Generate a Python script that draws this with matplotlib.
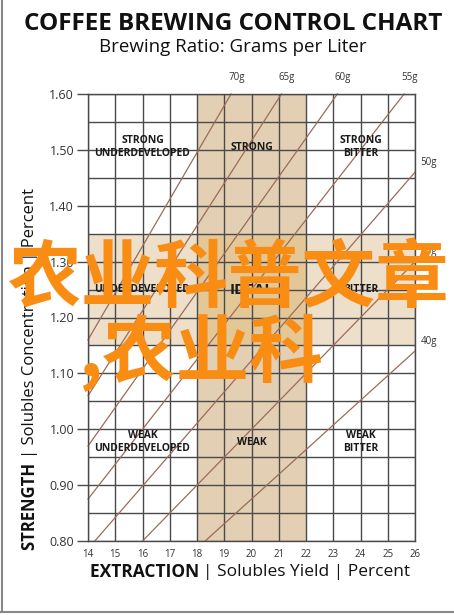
import numpy as np
import matplotlib
matplotlib.use('Agg')
import matplotlib.pyplot as plt
from matplotlib.lines import Line2D

# Data
x_ticks = [14, 15, 16, 17, 18, 19, 20, 21, 22, 23, 24, 25, 26]
y_ticks = [0.80, 0.90, 1.00, 1.10, 1.20, 1.30, 1.40, 1.50, 1.60]
y_minor = [0.85, 0.95, 1.05, 1.15, 1.25, 1.35, 1.45, 1.55]

ratios = ['70g', '65g', '60g', '55g', '50g', '45g', '40g']
line_start_x = [14, 14, 14, 14, 14.25, 16.0, 18.3]
line_start_y = [1.16, 1.06, 0.97, 0.875, 0.80, 0.80, 0.80]
line_end_x = [19.25, 21.1, 23.15, 25.6, 26, 26, 26]
line_end_y = [1.60, 1.60, 1.60, 1.60, 1.46, 1.30, 1.14]

ideal_extraction = [18, 22]
ideal_strength = [1.15, 1.35]

zone_x = [16, 20, 24]
zone_y = [1.505, 1.25, 0.977]
zone_labels = [
    ['STRONG\nUNDERDEVELOPED', 'STRONG', 'STRONG\nBITTER'],
    ['UNDERDEVELOPED', 'IDEAL', 'BITTER'],
    ['WEAK\nUNDERDEVELOPED', 'WEAK', 'WEAK\nBITTER'],
]

FONT = 'Open Sans'
GRID = '#4a4a4a'
LINE = '#9c6b5a'

fig = plt.figure(figsize=(4.54, 6.15), dpi=100)
ax = fig.add_axes([88 / 454, 74 / 615, 327 / 454, 447 / 615])
ax.set_xlim(x_ticks[0], x_ticks[-1])
ax.set_ylim(y_ticks[0], y_ticks[-1])

# shaded ideal bands
ax.axvspan(ideal_extraction[0], ideal_extraction[1], color='#e3cfb3', lw=0, zorder=0)
ax.axhspan(ideal_strength[0], ideal_strength[1], color='#eedfcb', lw=0, zorder=0)
ax.fill_between(ideal_extraction, ideal_strength[0], ideal_strength[1],
                color='#e4c796', lw=0, zorder=0.5)

# grid
ax.set_xticks(x_ticks)
ax.set_yticks(y_ticks)
ax.set_yticks(y_minor, minor=True)
ax.grid(True, which='both', color=GRID, lw=1.0, zorder=1)
ax.set_axisbelow(True)
for s in ax.spines.values():
    s.set_color(GRID)
    s.set_linewidth(1.0)
ax.tick_params(axis='y', which='major', length=8, color=GRID, width=1.0,
               labelsize=9, labelcolor='#333333', pad=2)
ax.tick_params(axis='y', which='minor', length=0)
ax.tick_params(axis='x', length=0, labelsize=7, labelcolor='#333333', pad=6)
ax.set_yticklabels(['%.2f' % v for v in y_ticks], family=FONT)
ax.set_xticklabels([str(v) for v in x_ticks], family=FONT)

# brewing ratio lines
for i, r in enumerate(ratios):
    ax.plot([line_start_x[i], line_end_x[i]], [line_start_y[i], line_end_y[i]],
            color=LINE, lw=0.9, zorder=2, clip_on=False)
    if line_end_y[i] >= y_ticks[-1]:
        ax.annotate(r, (line_end_x[i], line_end_y[i]), xytext=(4, 8),
                    textcoords='offset points', ha='center', va='bottom',
                    fontsize=7, family=FONT, color='#333333')
    else:
        ax.annotate(r, (line_end_x[i], line_end_y[i]), xytext=(4, 3),
                    textcoords='offset points', ha='left', va='bottom',
                    fontsize=7, family=FONT, color='#333333')

# zone labels
for row in range(3):
    for col in range(3):
        txt = zone_labels[row][col]
        size = 11 if txt == 'IDEAL' else 7.5
        ax.text(zone_x[col], zone_y[row], txt, ha='center', va='center',
                fontsize=size, fontweight='bold', family=FONT, color='#1a1a1a',
                linespacing=1.2, zorder=3)

# titles
fig.text(0.513, 0.961, 'COFFEE BREWING CONTROL CHART', ha='center', va='center',
         fontsize=17.5, fontweight='bold', family=FONT, color='#111111')
fig.text(0.513, 0.924, 'Brewing Ratio: Grams per Liter', ha='center', va='center',
         fontsize=13.5, family=FONT, color='#111111')

# axis labels with a bold first word
fig.canvas.draw()
rend = fig.canvas.get_renderer()

xb = fig.text(0, 0.070, 'EXTRACTION ', ha='left', va='center', fontsize=12.5,
              fontweight='bold', family=FONT, color='#111111')
xr = fig.text(0, 0.070, '| Solubles Yield | Percent', ha='left', va='center',
              fontsize=12.5, family=FONT, color='#111111')
wb = xb.get_window_extent(rend).width / fig.bbox.width
wr = xr.get_window_extent(rend).width / fig.bbox.width
x0 = 0.551 - (wb + wr) / 2
xb.set_x(x0)
xr.set_x(x0 + wb)

yb = fig.text(0.066, 0, 'STRENGTH ', ha='center', va='bottom', rotation=90,
              fontsize=12, fontweight='bold', family=FONT, color='#111111')
yr = fig.text(0.066, 0, '| Solubles Concentration | Percent', ha='center',
              va='bottom', rotation=90, fontsize=12, family=FONT, color='#111111')
hb = yb.get_window_extent(rend).height / fig.bbox.height
hr = yr.get_window_extent(rend).height / fig.bbox.height
y0 = 0.40 - (hb + hr) / 2
yb.set_y(y0)
yr.set_y(y0 + hb)

# watermark
wm = ['Noto Sans CJK SC', 'DejaVu Sans']
fig.text(0.502, 0.545, '农业科普文章', ha='center', va='center', fontsize=53,
         fontweight='bold', family=wm, color='#f98d14', zorder=10)
fig.text(78 / 454, 1 - 353 / 615, ',农业科', ha='left', va='center', fontsize=53,
         fontweight='bold', family=wm, color='#f98d14', zorder=10)

# frame of the picture
fig.add_artist(Line2D([0.005, 0.005], [0.005, 1], color='#888888', lw=1.5))
fig.add_artist(Line2D([0, 1], [0.005, 0.005], color='#888888', lw=1.5))

fig.savefig('out.png', dpi=100)
